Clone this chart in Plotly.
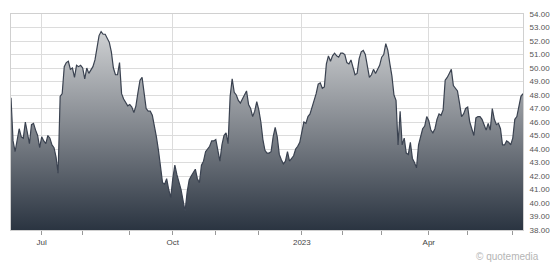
import pandas as pd
import plotly.graph_objects as go

# ---- data -------------------------------------------------------------
START_DATE = "2022-06-09"
END_DATE = "2023-06-08"
HOLIDAYS = ["2022-06-20", "2022-07-04", "2022-09-05", "2022-11-24", "2022-12-26",
            "2023-01-02", "2023-01-16", "2023-02-20", "2023-04-07", "2023-05-29"]

PRICES = [
    47.8, 44.6, 43.8, 44.8, 45.5, 44.9, 44.8, 46.0, 45.2, 44.4,
    45.8, 45.9, 45.4, 45.0, 44.1, 44.9, 44.6, 44.4, 45.0, 44.8,
    44.3, 44.1, 43.4, 42.2, 47.9, 48.1, 50.1, 50.4, 50.5, 49.9,
    50.0, 49.3, 50.2, 50.1, 50.2, 50.0, 49.2, 50.0, 49.6, 49.9,
    50.1, 50.6, 51.5, 52.4, 52.7, 52.5, 52.5, 52.2, 51.9, 51.2,
    50.0, 49.5, 49.5, 50.4, 48.1, 47.7, 47.4, 47.2, 47.3, 47.1,
    46.7, 47.2, 48.2, 49.1, 49.3, 47.9, 47.0, 46.8, 46.8, 46.5,
    45.8, 44.9, 43.9, 42.6, 41.5, 41.4, 41.8, 41.0, 40.4, 41.8,
    42.8, 42.1, 41.6, 41.0, 40.2, 39.4, 40.8, 41.7, 42.0, 42.3,
    42.5, 41.8, 41.5, 42.8, 43.1, 43.8, 44.0, 44.2, 44.6, 44.6,
    44.7, 44.0, 43.1, 44.3, 45.0, 45.2, 44.4, 47.9, 49.2, 48.2,
    48.0, 47.6, 47.4, 47.7, 48.0, 48.3, 47.3, 47.0, 46.4, 46.8,
    47.5, 46.9, 46.0, 44.7, 43.9, 43.7, 43.7, 43.8, 44.9, 45.6,
    44.9, 43.6, 43.2, 42.9, 43.1, 43.8, 43.1, 43.3, 43.5, 44.0,
    44.2, 44.5, 45.4, 46.0, 45.9, 46.4, 46.6, 47.1, 47.6, 48.1,
    48.8, 48.9, 48.5, 48.6, 50.3, 50.9, 50.5, 50.9, 51.1, 50.9,
    50.8, 51.1, 51.1, 51.0, 50.4, 50.3, 50.6, 50.1, 49.5, 49.6,
    50.7, 51.2, 51.3, 51.0, 50.1, 49.3, 49.5, 49.9, 49.6, 49.9,
    50.2, 50.8, 51.0, 51.8, 51.3, 50.3, 49.4, 48.0, 47.6, 44.3,
    46.8, 44.3, 44.8, 43.7, 43.6, 44.5, 43.3, 43.0, 42.6, 44.3,
    44.9, 45.5, 45.7, 46.4, 46.1, 45.4, 45.2, 45.5, 46.2, 46.6,
    46.5, 46.9, 49.1, 49.3, 49.6, 49.9, 48.7, 48.5, 48.3, 47.4,
    46.4, 46.6, 47.0, 47.1, 46.0, 45.5, 45.0, 46.3, 46.4, 46.4,
    46.2, 45.8, 45.4, 45.9, 45.4, 47.0, 46.2, 45.8, 45.9, 45.5,
    44.3, 44.3, 44.6, 44.5, 44.3, 44.8, 46.2, 46.4, 47.2, 47.9,
    48.1,
]

MAJOR_TICKS = ["2022-07-01", "2022-10-03", "2023-01-03", "2023-04-03"]
MAJOR_LABELS = ["Jul", "Oct", "2023", "Apr"]
MINOR_TICKS = ["2022-08-01", "2022-09-01", "2022-11-01", "2022-12-01",
               "2023-02-01", "2023-03-01", "2023-05-01", "2023-06-01"]

Y_MIN, Y_MAX = 38, 54
Y_TICKS = list(range(38, 55))

# ---- figure -----------------------------------------------------------
dates = [d for d in pd.bdate_range(START_DATE, END_DATE)
         if d.strftime("%Y-%m-%d") not in HOLIDAYS]
dates = [d.strftime("%Y-%m-%d") for d in dates]

fig = go.Figure()
fig.add_trace(go.Scatter(
    x=dates, y=PRICES, mode="lines",
    line=dict(color="#3a4250", width=1.2),
    fill="tozeroy",
    fillgradient=dict(type="vertical", start=Y_MIN, stop=52.8,
                      colorscale=[[0, "#27313e"], [0.5, "#7e838a"], [1, "#d0d2d4"]]),
    hoverinfo="skip",
))

FONT = "Liberation Sans, Arial, sans-serif"
fig.update_layout(
    width=560, height=265,
    margin=dict(l=10, r=31, t=10, b=35),
    paper_bgcolor="white", plot_bgcolor="white",
    showlegend=False,
    font=dict(family=FONT, size=8, color="#555"),
    xaxis=dict(
        type="date",
        range=[dates[0], dates[-1]],
        rangebreaks=[dict(bounds=["sat", "mon"]), dict(values=HOLIDAYS)],
        tickmode="array", tickvals=MAJOR_TICKS, ticktext=MAJOR_LABELS,
        showgrid=True, gridcolor="#dcdcdc", gridwidth=1,
        ticks="outside", ticklen=4, tickcolor="#999", tickwidth=1,
        minor=dict(tickmode="array", tickvals=MINOR_TICKS, ticks="outside",
                   ticklen=4, tickcolor="#999", showgrid=False),
        showline=True, linecolor="#d0d0d0", mirror=True,
        tickfont=dict(family=FONT, size=8, color="#444"),
        zeroline=False, fixedrange=True,
    ),
    yaxis=dict(
        side="right",
        range=[Y_MIN, Y_MAX],
        tickmode="array", tickvals=Y_TICKS,
        tickformat=".2f",
        showgrid=True, gridcolor="#dcdcdc", gridwidth=1,
        ticks="", ticklabelstandoff=4,
        showline=True, linecolor="#d0d0d0", mirror=True,
        tickfont=dict(family=FONT, size=8, color="#555"),
        zeroline=False, fixedrange=True,
    ),
    annotations=[dict(
        text="© quotemedia", xref="paper", yref="paper",
        x=1.035, y=-0.123, xanchor="right", yanchor="middle",
        showarrow=False, font=dict(family=FONT, size=10, color="#b5b5b5"),
    )],
)

fig.write_html("out.html")
